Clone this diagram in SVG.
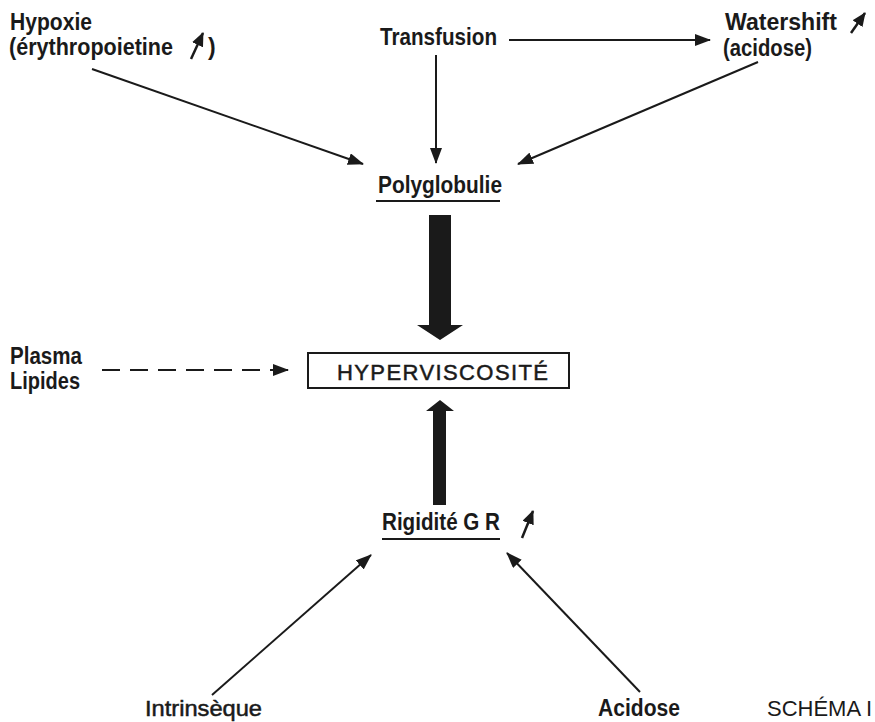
<svg xmlns="http://www.w3.org/2000/svg" width="875" height="722" viewBox="0 0 875 722">
<style>
  .lbl { font-family: "Liberation Sans", Arial, sans-serif; font-size: 23px; font-weight: bold; fill: #1a1a1a; }
  .reg { font-family: "Liberation Sans", Arial, sans-serif; font-size: 22px; fill: #1a1a1a; stroke: #1a1a1a; stroke-width: 0.5; }
  .ln { stroke: #1a1a1a; stroke-width: 2; fill: none; }
  .sm { stroke: #1a1a1a; stroke-width: 2.5; fill: none; }
  .thick { fill: #1a1a1a; }
</style>
<defs>
  <marker id="ah" markerUnits="userSpaceOnUse" markerWidth="16" markerHeight="12" refX="15" refY="6" orient="auto">
    <path d="M0,0 L16,6 L0,12 z" fill="#1a1a1a"/>
  </marker>
  <marker id="ahs" markerUnits="userSpaceOnUse" markerWidth="14" markerHeight="12" refX="13" refY="6" orient="auto">
    <path d="M0,0 L14,6 L0,12 z" fill="#1a1a1a"/>
  </marker>
</defs>
<rect width="875" height="722" fill="#ffffff"/>

<g id="hypoxie">
  <text class="lbl" x="10" y="30" textLength="82" lengthAdjust="spacingAndGlyphs">Hypoxie</text>
  <text class="lbl" x="9" y="55" textLength="164" lengthAdjust="spacingAndGlyphs">(érythropoietine</text>
  <line class="sm" x1="191" y1="59" x2="203" y2="33" marker-end="url(#ahs)"/>
  <text class="lbl" x="208" y="55">)</text>
</g>
<g id="transfusion">
  <text class="lbl" x="380" y="45" textLength="117" lengthAdjust="spacingAndGlyphs">Transfusion</text>
</g>
<g id="watershift">
  <text class="lbl" x="725" y="30" textLength="112" lengthAdjust="spacingAndGlyphs">Watershift</text>
  <text class="lbl" x="723" y="56" textLength="89" lengthAdjust="spacingAndGlyphs">(acidose)</text>
  <line class="sm" x1="851" y1="33" x2="865" y2="13" marker-end="url(#ahs)"/>
</g>
<g id="polyglobulie">
  <text class="lbl" x="378" y="193" textLength="124" lengthAdjust="spacingAndGlyphs">Polyglobulie</text>
  <line class="ln" x1="376" y1="201" x2="500" y2="201"/>
</g>
<g id="plasma">
  <text class="lbl" x="10" y="364" textLength="72" lengthAdjust="spacingAndGlyphs">Plasma</text>
  <text class="lbl" x="10" y="389" textLength="70" lengthAdjust="spacingAndGlyphs">Lipides</text>
</g>
<g id="hyperviscosite">
  <rect x="308" y="353" width="261" height="35" fill="none" stroke="#1a1a1a" stroke-width="2"/>
  <text class="reg" x="337" y="380" textLength="211" lengthAdjust="spacing">HYPERVISCOSITÉ</text>
</g>
<g id="rigidite">
  <text class="lbl" x="382" y="530" textLength="118" lengthAdjust="spacingAndGlyphs">Rigidité G R</text>
  <line class="ln" x1="382" y1="539" x2="500" y2="539"/>
  <line class="sm" x1="522" y1="538" x2="533" y2="511" marker-end="url(#ahs)"/>
</g>
<g id="intrinseque">
  <text class="reg" x="145" y="716" font-size="23" textLength="117" lengthAdjust="spacingAndGlyphs">Intrinsèque</text>
</g>
<g id="acidose">
  <text class="lbl" x="598" y="716" textLength="82" lengthAdjust="spacingAndGlyphs">Acidose</text>
</g>
<g id="schema">
  <text class="reg" x="767" y="716" style="stroke-width:0">SCHÉMA I</text>
</g>

<g id="connectors">
  <line class="ln" x1="509" y1="40" x2="710" y2="40" marker-end="url(#ah)"/>
  <line class="ln" x1="436" y1="55" x2="436" y2="163" marker-end="url(#ah)"/>
  <line class="ln" x1="92" y1="69" x2="363" y2="164" marker-end="url(#ah)"/>
  <line class="ln" x1="758" y1="62" x2="518" y2="164" marker-end="url(#ah)"/>
  <polygon class="thick" points="429,215 451,215 451,325 463,325 440,340 417,325 429,325"/>
  <line class="ln" x1="102" y1="370" x2="275" y2="370" stroke-dasharray="18 10"/>
  <line class="ln" x1="270" y1="370" x2="288" y2="370" marker-end="url(#ah)"/>
  <polygon class="thick" points="433,505 446,505 446,411 454,411 440,400 426,411 433,411"/>
  <line class="ln" x1="212" y1="695" x2="371" y2="555" marker-end="url(#ah)"/>
  <line class="ln" x1="640" y1="692" x2="507" y2="553" marker-end="url(#ah)"/>
</g>
</svg>
